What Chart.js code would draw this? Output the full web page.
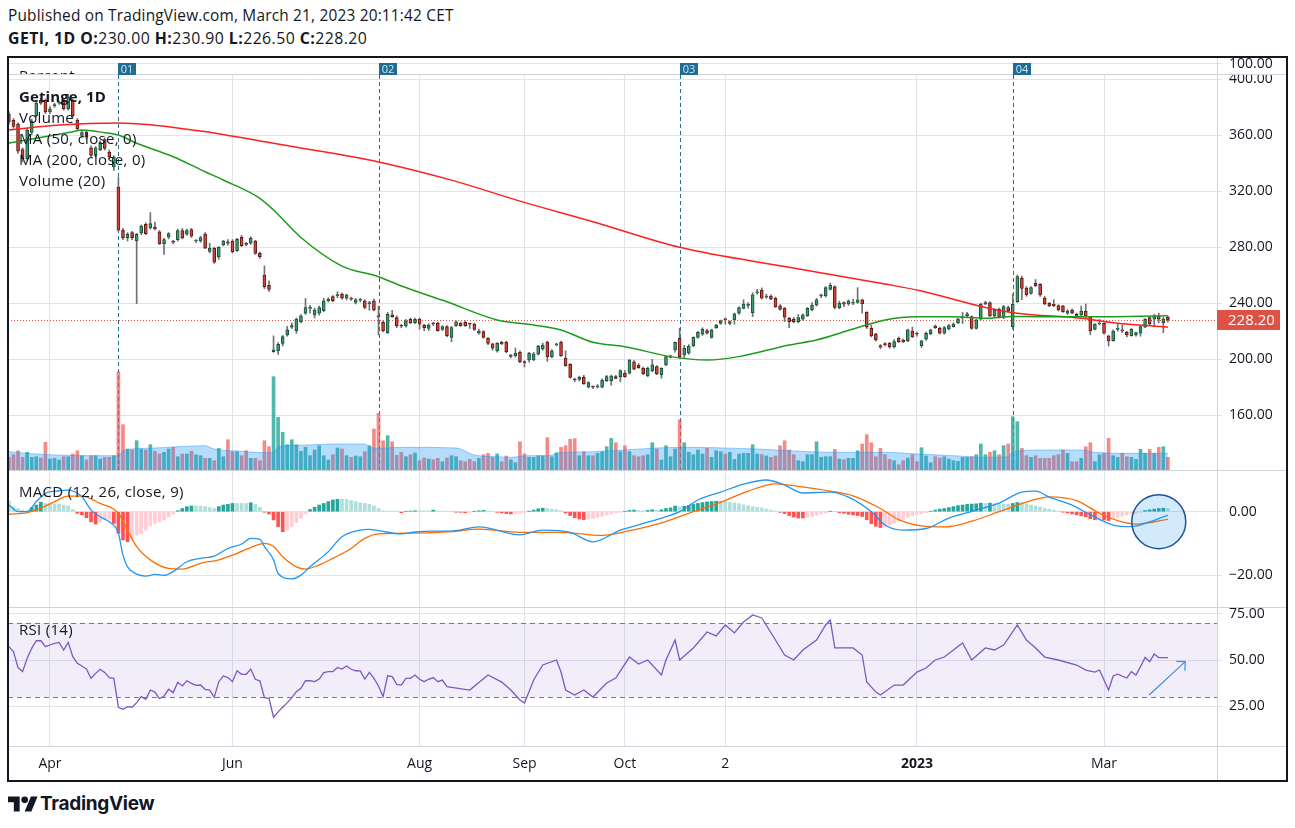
<!DOCTYPE html>
<html><head><meta charset="utf-8">
<script src="https://cdn.jsdelivr.net/npm/chart.js"></script>
<style>
html,body{margin:0;padding:0;background:#fff;}
body{width:1295px;height:828px;overflow:hidden;position:relative;font-family:'Open Sans',sans-serif;color:#131722;}
.abs{position:absolute;}
.lg{position:absolute;left:19px;font-size:15px;line-height:20px;letter-spacing:0.3px;white-space:nowrap;color:#131722;}
.sep{position:absolute;background:#d1d4dc;}
canvas{position:absolute;}
</style></head><body>

<div class="abs" style="left:8px;top:6px;font-size:15.4px;letter-spacing:0.2px;line-height:20px;white-space:nowrap">Published on TradingView.com, March 21, 2023 20:11:42 CET</div>
<div class="abs" style="left:8px;top:28px;font-size:15.8px;letter-spacing:0.45px;line-height:20px;white-space:nowrap"><b>GETI, 1D</b> <b>O:</b>230.00 <b>H:</b>230.90 <b>L:</b>226.50 <b>C:</b>228.20</div>

<canvas id="cPrice" width="1279" height="413" style="left:8px;top:57px"></canvas>
<canvas id="cMacd" width="1279" height="137" style="left:8px;top:470px"></canvas>
<canvas id="cRsi" width="1279" height="184" style="left:8px;top:597px"></canvas>

<div class="abs" style="left:8px;top:57px;width:200px;height:17px;overflow:hidden"><div class="lg" style="left:11px;top:8px">Percent</div></div>
<div class="lg" style="top:86px;font-weight:bold;letter-spacing:0.1px">Getinge, 1D</div>
<div class="lg" style="top:107px">Volume</div>
<div class="lg" style="top:128px">MA (50, close, 0)</div>
<div class="lg" style="top:149px">MA (200, close, 0)</div>
<div class="lg" style="top:170px">Volume (20)</div>
<div class="lg" style="top:481px">MACD (12, 26, close, 9)</div>
<div class="lg" style="top:619px">RSI (14)</div>

<div class="sep" style="left:8px;top:470px;width:1279px;height:1px"></div>
<div class="sep" style="left:8px;top:607px;width:1279px;height:1px"></div>
<div class="sep" style="left:8px;top:746px;width:1279px;height:1px"></div>
<div class="sep" style="left:1217px;top:746px;width:1px;height:35px"></div>
<div class="abs" style="left:7px;top:56px;width:1281px;height:726px;box-sizing:border-box;border:2px solid #131722;pointer-events:none"></div>

<svg class="abs" style="left:8px;top:796px" width="30" height="16" viewBox="0 0 36 18">
<path fill="#131722" d="M14 18H7V7H0V0h14v18zM28 18h-8l7.5-18h8L28 18z"/><circle fill="#131722" cx="20" cy="4" r="4"/>
</svg>
<div class="abs" style="left:40px;top:793px;font:bold 19px Inter,'Open Sans',sans-serif;line-height:22px;letter-spacing:-0.3px;color:#131722">TradingView</div>

<script>
// ---------------- DATA ----------------
// daily candles GETI, index 0 = 21 Mar 2022 ... 254 = 21 Mar 2023 : [open, high, low, close]
const candles = [
[375,377,368,369.5],[370.7,372,365,366.4],[368,369,347,348.6],[349.8,351,341,343.3],[343.3,365,342,363.6],
[362,371.5,360.5,370],[374,385,373,383],[385,386.5,382,383],[385,386,375.5,376.7],[376.7,380.5,375.5,379],
[381,383,380,382],[383,384.5,382,383.2],[385,386,378,379],[379,388.5,378,387],[385,386,373,374],
[370.7,372,364,364.8],[360,363.5,358.5,362],[362.4,363.5,357.5,358.8],[351,352.5,344.5,345.7],[345.7,352,344.5,351],
[349.8,356,349,354.8],[357,358,349.5,350.7],[348,349.5,343.5,344.5],[337.4,345.5,335,344.5],[323,329.8,291,292.3],
[292.1,293.5,285.5,286.9],[286.9,290.5,284.5,289.3],[290.5,291.5,285.5,286.9],[284.5,290,239.8,289.3],[290.2,296,289,295],
[296.4,297.5,289,289.8],[293.8,304.8,293,296.9],[294.5,298,292.5,293.3],[291,292,282,282.6],[282.6,286.5,275,285.5],
[287.4,290.5,286,289.8],[284,285,282.5,283.6],[285.5,293,284.5,292],[292,293.5,286,286.7],[289.3,293,288.5,292],
[292.6,293.5,287,288],[284.5,285.5,283.5,284.8],[284.5,288,283.5,286.9],[289.5,290.5,279,279.3],[277,283,276,279.3],
[279.3,280,268.5,269.3],[273.3,280.5,271.5,280],[281.7,285,281,284.5],[284,285.5,281.5,282.9],[284.5,285.5,276,276.9],
[277.6,286.5,277,285.7],[287.1,288.5,280.5,281.2],[282.9,283.5,281,282.1],[282.9,287.5,282,286.4],[284.5,285,275,275.7],
[275.7,276.5,272,273.3],[260.2,266.7,250.5,251.9],[252.9,256,248.5,250],[205.5,216.7,205,206.7],[206.2,212,203.5,210.7],
[211.4,217,209.5,216.2],[217.4,223.5,216.5,221],[222.9,226,222,224],[220.5,229.5,218.5,228.6],[226.9,232,226,231],
[232.9,243.5,232,236.9],[236.4,238.5,233,236.9],[231.7,236.5,229.5,235.2],[232.9,238,231.5,236.9],[234.8,243.5,234,241.7],
[241.9,244,241,243],[244.8,245.5,241,241.9],[245.5,248.3,244,246],[246.4,247.5,243,243.6],[243.6,246.5,242.5,246],
[243.2,244.5,242,243],[240.7,243.5,239.5,242.4],[242.2,243.5,241,242.4],[241.7,242.5,236,237.1],[239.8,241.5,235,240],
[241.7,243,234.5,235.2],[230.5,238,217.4,230.3],[226.4,227.5,219.5,220.5],[219,233.5,218.5,232.1],[231.7,235,230,230.5],
[229.8,231,222.5,223.8],[223.8,225,222.5,223.6],[223.8,228.5,223,227.4],[228.6,229.5,225.5,226.2],[226.2,229.5,225.5,228.6],
[228.6,229.5,221.5,225],[224.5,225,220.5,222.6],[222.1,225.5,220.5,224.5],[225.4,226.5,224,225.2],[225.7,226.5,220,220.5],
[221.4,224,220.5,223.3],[223.3,224,216,216.9],[215.7,223.5,212.5,222.6],[224,227.5,223.5,226.7],[225.7,226.5,223.5,224],
[226.4,227.5,223.5,224],[225.2,226,222,225],[225,226,220.5,221.4],[218.6,221.5,218,220.2],[219.8,220.5,215,215.7],
[215,215.5,210.5,211.4],[211,211.5,206.5,207.9],[206,212,205,211.4],[212.1,213,210.5,211],[212.1,213,204.5,205.5],
[202,203.5,201,203],[202.4,208,201.5,204.3],[205,206,197.5,198.3],[197.8,199,194.5,197.6],[199.5,205,198,204.3],
[199.5,205,199,203.8],[203.6,210,203,209.5],[207.4,211.5,206.5,210.2],[212.1,213,198.5,201.9],[201.9,207,201,206],
[210.2,211.5,209.5,211],[212.1,213,202,202.6],[200.7,206,195,195.5],[196.4,197,186.5,187.1],[185.3,186.5,184,185.2],
[185.7,188,184.5,187.1],[187.1,188.5,182,182.4],[180,184,179.5,183.3],[180.2,181,179,180],[180,182,179.5,181],
[180,186,179.5,185.2],[184.8,188.5,184,187.6],[184.8,188.8,181.5,188],[187.6,188.5,186,186.4],[187.6,192.5,184,191.9],
[190,192,187,187.6],[190,200,189.5,199.5],[198.1,199,192.5,192.9],[195.7,197,193.5,194],[193.6,194.5,189,189.8],
[188.1,194.5,187.5,193.6],[191.9,200,191,196],[194.8,195.5,189,189.5],[188.8,194,186.5,193.6],[196,202.5,195.5,201.9],
[201.4,203,201,202.4],[206.7,212.5,205,212.1],[215,222.1,200.5,201.9],[203.1,210,200.5,207.9],[204.3,210.5,203.5,209.5],
[209.8,216,209,215.7],[215.7,220,215,219.3],[217.9,222.5,217,221.4],[220.5,221.5,218,218.6],[215.7,221.5,215,221],
[222.6,225,222,224.5],[225.7,228,225,227.4],[228.8,229.5,225,228.1],[225.7,227.5,224.5,226.9],[228.1,233,225,232.4],
[232.9,237.5,232,236.9],[236.4,242.5,236,239.5],[238.5,240.5,236.5,239],[233.3,247.5,230.5,246],[247.5,250,246.5,247.9],
[249.5,251,243,243.6],[244.3,246.5,243.5,245.2],[245.2,246,242.5,242.9],[243.6,244.5,237,237.6],[238.1,239,235,235.7],
[236.4,237,227,230],[229.3,230,222.5,226.9],[228.6,230,226,226.9],[226.9,232,226,229.8],[228.6,232.5,228,231.7],
[231,237,230.5,236.4],[235.2,240.5,234.5,238.8],[238.8,243.5,238,242.4],[245.2,246.5,244,246],[245.2,252,244.5,251.2],
[250,254.5,249.5,253.1],[251.9,252.5,236,237.1],[236.9,241.5,236,240],[240.5,241,237.5,239.3],[239.5,242.5,238.5,241.7],
[240,243,239,240.7],[240.7,251.2,240,242.4],[242.4,243,233,239.5],[233.6,234,222,222.9],[222.1,224.5,216,216.7],
[218.1,218.5,213,213.8],[209.8,210.5,207.5,208.6],[210.7,212,209.5,210.5],[211.4,212,208,209],[209,214,208,212.6],
[215,216,212,212.6],[213.8,214.5,212,212.6],[213.3,221.5,212.5,221],[220.2,223,215.5,216.2],[218,219.5,216.5,217.9],
[209.8,213.5,208.5,213.1],[214.3,219.5,213.5,218.6],[218.1,221.5,217.5,221],[223.8,224.5,222,222.6],[222.1,223,218,218.6],
[218.6,223.5,218,222.6],[221.7,225,221,224],[223.3,226,223,225.2],[226.2,229.5,225.5,228.8],[229.6,233.5,225.5,229.8],
[231,233.5,230.5,232.4],[230.5,231,221.5,222.1],[222.1,228.5,221.5,228.1],[228.6,240,228,239.5],[239.5,241.5,239,240.5],
[240.5,241,230.5,231],[231,236,230,235.2],[235.7,236.5,229.5,230],[230,238.5,229,237.6],[236.9,238,234,234.8],
[223.3,246.7,221.5,239.3],[241.2,260.2,240.5,259],[257.9,259.5,242.5,250.7],[250.7,252,245,246],[247.1,252,246.5,251.2],
[254.3,257,252,252.4],[253.6,254,245,246],[243.6,245,239,239.5],[240,240.5,237.5,238.3],[239.3,242.5,237.5,238.1],
[238.3,239,234.5,235.2],[238.1,238.5,233.5,234],[232.9,235.5,232,234.5],[235.2,236,232.5,232.9],[232.1,233,230,230.5],
[231.7,238,231,234.5],[234.5,239.5,230,230.5],[230,230.5,217.5,220.5],[221.4,225.5,221,225.2],[225.2,228.5,224.5,225.7],
[225.7,226,218,218.6],[216.7,217,209.5,213.1],[213.3,221,213,220.2],[221.4,225.5,220,221.4],[221,224.5,219,220.2],
[219.3,220,216,217.4],[216.9,222,216.5,221.4],[217.4,219.5,216.5,219],[218.6,224,216.5,223.3],[222.9,229,222.5,228.6],
[229.8,230.5,224.5,225.2],[228.6,232,224,231],[231,233,226,228.6],[226.2,230,219,228.6],[230,230.9,226.5,228.2]
];
// daily volume (100k shares)
const volume = [
12.7,15.3,19.3,12.7,17.7,12.7,13.3,12,27.7,11, 11.7,10,13.3,13.3,16,19.3,14.3,10,14.3,14.3,
11,12.7,12.7,14.3,98.3,45.3,21,20,29.3,21, 20,25.3,18.7,16,17.7,21,22.7,13.3,16,16,
18.7,15,14.3,11.7,11.7,9.3,21.7,13.3,30.3,18.3, 18.3,14.3,19.3,11.7,11.7,9.3,29.3,23.3,93.3,52.7,
37.7,25.3,30.3,25.3,18.7,22.7,14.3,20,24.3,14.3, 10,15.3,22,21,14.3,12.7,14,13.3,18.3,24.3,
41,56.7,29.3,34.3,28.3,14.7,17.7,13.3,15.3,17, 9.3,12,11,10.3,11.7,8.3,12,14.3,13.3,9.3,
8.3,10.7,8.3,11.7,15.3,16.7,12.7,16,8.3,14, 10.3,7.3,28.3,16,12.7,12.7,14.3,14.3,32.3,13.3,
17.3,22.7,24.3,30.7,31.3,14.3,18.3,14.3,14.3,16.7, 18.3,23.3,31.7,27.3,18.3,24.3,18.3,14.3,13.3,14.3,
15.3,27.3,21,10,24.3,13.3,21,50.3,27.3,17.7, 15.3,20,16,21.7,12.7,19.3,18.3,16,17.7,10.7,
16,16.7,16.7,25.3,16,15.3,14,12.7,14,24.3, 29.3,20,15.3,9.3,8.3,15.3,15.3,28.3,12.7,13.3,
13.3,20.7,11,10.3,11.7,11.7,19.3,26,35.3,27.3, 13.3,21.7,15.3,10.7,9.3,5.3,9.3,12,15.3,8.3,
22.3,14,7.3,13.3,12,13.3,11,9.3,8.7,12.7, 12.7,13.3,15.3,26,15.3,17.7,19.3,15.3,24.3,26,
53.3,48.3,21.7,14.3,12.7,14.3,11.7,11.7,11.7,14.3, 15.3,20,16.7,8.3,8.3,11.7,23.3,27.3,8.3,15.3,
16.7,31.7,14.3,12.7,16.7,13.3,12.7,10.7,20.7,16.7, 20.7,16.7,22.7,23.3,12.7
];
// Volume (20) moving average, read at [bar, value]
const volMA20 = [[0,18.3],[6,16],[14,14.5],[21,14.3],[24,14.3],[25,19],[27,21],[32,22],[38,23.5],[43,24.3],[45,21],[50,19],[56,17.3],[58,17.5],[59,23],[64,24.7],[71,26],[78,26],[79,23],[81,21.7],[86,22.7],[98,22],[102,15],[107,13.3],[110,12.7],[114,14.3],[118,14.3],[121,17.3],[128,18.3],[135,20],[142,22],[149,22.7],[157,22],[164,21],[171,19.3],[181,17.7],[192,17.7],[199,16],[207,14.3],[214,12.7],[219,13.3],[220,18.3],[227,20],[235,20],[238,17.7],[246,16.7],[254,16.7]];
// MA 50 and MA 200 of close, read at [bar, value]
const ma50 = [[0,354.5],[6,357.9],[14,362.6],[16,363.8],[21,361.9],[24,360.2],[28,354.3],[36,344.7],[43,334],[47,328.1],[55,315],[58,306.6],[64,287],[73,266.6],[81,259],[86,252.4],[96,241.1],[107,228.1],[115,224.5],[121,220.9],[128,212.1],[135,209],[145,201.9],[153,199.5],[160,201.9],[171,210.2],[177,213.8],[185,221.6],[192,228.1],[199,230.4],[207,230.4],[214,229.3],[220,230.5],[235,230.3],[254,231.1]];
const ma200 = [[0,363.8],[11,367.4],[24,368.8],[42,363.1],[55,356],[64,351],[81,341],[97,328],[112,313],[128,298.3],[147,280],[171,265.7],[192,253.8],[200,248.8],[214,237],[221,232.9],[235,229.3],[242,226.1],[254,222.9]];
// MACD (12,26,9)
const macdLine = [[0,2.1],[2,0],[4,0],[6,3.2],[8,5.8],[11,6.6],[13,6.8],[16,4.7],[18,0.5],[20,-1.6],[22,-3.2],[24,-6.8],[25,-13.7],[26,-17.4],[28,-19.7],[30,-20.3],[32,-19.8],[34,-20.1],[36,-18.9],[39,-15.8],[42,-14.7],[45,-14],[48,-11.6],[51,-10.2],[53,-8.4],[55,-8.7],[56,-11],[58,-15.2],[59,-19.5],[62,-21.2],[64,-20],[66,-17.4],[70,-12.6],[73,-7.9],[77,-5.8],[79,-5.6],[81,-6],[86,-7],[89,-6.4],[93,-6.1],[97,-6.1],[103,-4.8],[112,-7.3],[117,-5.8],[123,-6.5],[128,-9.5],[134,-5.8],[140,-3.3],[147,0],[151,3.7],[156,6.2],[161,8.7],[166,10],[170,8.4],[174,5.9],[180,6.2],[184,4.6],[189,0],[192,-4.2],[196,-5.8],[201,-5.3],[206,-2],[212,0.5],[217,2.7],[222,6.2],[225,6.5],[228,4.6],[233,2.1],[237,-1],[239,-2.4],[242,-4.2],[246,-4.7],[250,-3.2],[254,-1.05]];
const signalLine = [[0,-0.8],[4,-0.3],[7,1.1],[10,3.2],[13,4.9],[16,4.9],[20,2.6],[24,-0.5],[26,-5.8],[28,-11],[31,-15.2],[35,-17.9],[38,-18.1],[42,-16.3],[46,-15.2],[49,-13.7],[53,-11.3],[56,-10],[58,-11],[60,-14.2],[63,-17.4],[65,-18.1],[68,-16.8],[71,-14.7],[75,-11.6],[78,-8.4],[81,-7],[86,-6.8],[93,-6.6],[97,-6.3],[103,-5.5],[112,-6.5],[121,-6.5],[130,-7.5],[136,-6],[143,-3.5],[149,-0.5],[156,3],[162,6.5],[168,8.8],[173,8],[180,6.5],[185,5],[191,1],[195,-2.5],[200,-4.5],[205,-4.8],[211,-3],[217,0],[224,3.5],[228,4.7],[234,3.5],[239,-0.5],[243,-2.8],[247,-3.9],[254,-2.4]];
const macdHist = [
3.4,1.6,1.0,0.5,0.3,1.3,2.1,3.0,2.6,2.6, 2.4,2.4,2.1,1.8,0.7,-0.5,-1.0,-1.9,-3.2,-3.9,
-3.2,-2.6,-2.4,-3.7,-6.8,-8.9,-9.5,-8.4,-7.4,-6.8, -5.8,-4.5,-3.7,-3.2,-2.6,-1.6,-0.7,0.3,1.0,1.6,
1.8,1.8,1.8,1.6,1.3,1.0,1.6,2.1,2.3,2.6, 2.6,2.6,2.6,2.8,2.3,1.4,-0.1,-0.7,-2.6,-4.7,
-6.3,-5.8,-4.7,-3.5,-2.1,-0.7,0.7,1.4,2.1,2.6, 3.2,3.7,3.9,3.9,3.9,3.5,3.2,2.8,2.6,2.3,
1.8,1.0,0.3,0.2,0.2,0.2,-0.3,0.1,0.2,0.3, 0.3,0.3,0.3,0.5,0.2,0.2,0.1,
0.1,-0.1,-0.2,-0.3,-0.2,0.1,0.3,0.4,0.3,0.1,-0.2,-0.4,-0.6,-0.7,-0.6,-0.5,-0.3,0.1,
0.5,0.9,1.1,1.0,0.8,0.6,0.3,
-0.4,-1.2,-1.9,-2.3,-2.5,-2.3,-2.1,-1.8,-1.4,
-1.0,-0.7,-0.4,-0.2,0.1,0.4,
0.5,0.4,0.3,0.4,0.6,0.5,0.6,1.0,1.2,1.8,1.6,1.7,
2.0,2.3,2.6,2.9,3.1,3.2,3.3,3.3,3.2,3.0,2.8,2.5,2.2,1.9,1.6,1.4,1.2,
0.8,0.5,0.2,-0.2,-0.6,
-1.2,-1.7,-2.0,-2.0,-1.8,-1.5,-1.1,-0.7,
-0.4,0.1,0.0,-0.3,-0.5,-0.8,-1.0,-1.2,
-1.5,-2.5,-3.8,-4.6,-5.0,-4.8,-4.2,-3.6,-3.0,
-2.4,-1.8,-1.3,-0.8,-0.6,-0.3,0.1,0.5,
0.8,1.0,1.3,1.6,1.9,2.1,2.3,2.4,2.5,2.7,2.6,2.7,
2.6,2.5,2.4,2.3,2.6,2.9,2.8,2.4,
2.1,1.8,1.5,1.1,0.8,0.5,0.2,-0.1,-0.4,-0.7,
-1.0,-1.3,-1.6,-2.2,-2.5,-2.4,-2.6,-2.8,
-2.3,-1.8,-1.4,-1.1,-0.8,-0.5,-0.2,
0.4,0.6,0.8,1.0,1.1,1.0
];
// RSI (14): bars 0..96 one value per bar, later read at [bar, value]
const rsiDaily = [
57.2,54.5,45.9,43.7,50.9,56.3,60.4,60.4,57.2,58.1, 59,59.5,55.4,59.5,51.8,48.2,46.8,45.1,40.1,42.8,
45,43.3,40.5,40.1,24.5,23.4,24.8,24.5,27,30.2, 28.8,33.8,32.7,29.1,30.6,34.2,32.4,38,36,38.8,
37.4,36.3,36.5,34.2,33.8,29.9,38.3,41.4,40.5,38.3, 44.2,42.3,42.3,45.1,39.6,38.8,29.7,29.3,19.1,22,
24.5,27,29.7,32.9,34.7,38.8,38.8,38.3,39.7,43.2, 43.7,43.7,46,45.1,46.8,45,44.2,44.1,39.7,43.3,
40.1,36,30.2,41.5,41,36.9,36.5,40.1,40.1,41.9, 39.6,38.3,39.6,40.5,38.3,39.2,35.6
];
const rsiLater = [[101,33.8],[105,41.9],[108,38.1],[110,33.8],[112,28.4],[113,26.8],[115,39.2],[117,47.3],[120,50],[121,43.5],[122,33.8],[124,31.1],[126,33.8],[128,30],[131,37.6],[133,40.3],[136,51.6],[138,47.8],[140,50],[143,41.9],[144,50],[146,60.8],[147,50],[150,56.5],[153,65.1],[155,63],[157,68.9],[159,64.6],[161,70.5],[163,74.3],[165,72.7],[168,60.8],[170,52.7],[172,50],[174,55.4],[177,60.8],[179,68.9],[180,71.6],[181,56.5],[185,56.5],[187,52.7],[188,38.1],[190,32.7],[191,31.1],[194,36.5],[196,36.5],[199,43.5],[201,45.7],[203,50],[205,51.6],[207,55.4],[209,59.2],[211,50],[214,56.5],[216,55.4],[218,58.1],[221,68.9],[223,60.8],[225,56.5],[227,51.6],[230,50],[234,47.3],[236,44.6],[238,43.5],[239,44.6],[241,33.8],[242,41.4],[243,42.4],[245,40.3],[246,43.7],[247,41.9],[248,46.4],[249,51.4],[250,49.1],[251,53.2],[252,51.3],[254,51.3]];

// axes / ticks
const priceTicks = [160,200,240,280,320,360,400];
const macdTicks = [-20,0];
const rsiTicks = [25,50,75];
const rsiBands = [30,70];
const xTickIdx = [9,49,90,113,135,157,199,240];
const xTickLabels = ['Apr','Jun','Aug','Sep','Oct','2','2023','Mar'];
const events = [24,81,147,220];
const eventLabels = ['01','02','03','04'];
// drawings (data coordinates)
const macdCircle = {bar:252, value:-3.15};
const rsiArrow = {from:[249.9,31.1], to:[257.8,49.1]};

// ---------------- CHARTS ----------------
const GRID = '#e0e3eb', SEPC = '#d1d4dc', TXT = '#131722';
const FONT = "'Open Sans', sans-serif";
Chart.defaults.font.family = FONT;
Chart.defaults.font.size = 14;
Chart.defaults.color = TXT;
const X_MIN = -0.197, X_MAX = 264.76;
const pts = arr => arr.map(p => ({x:p[0], y:p[1]}));

function xAxis(show){
  return {
    type:'linear', min:X_MIN, max:X_MAX, offset:false,
    afterBuildTicks: a => { a.ticks = xTickIdx.map(v => ({value:v})); },
    afterFit: a => { a.height = show ? 35 : 0; a.paddingLeft = 0; a.paddingRight = 0; },
    grid:{color:GRID, drawTicks:false, offset:false},
    border:{display:show, color:SEPC},
    ticks:{display:show, autoSkip:false, maxRotation:0, padding:10, color:TXT,
      callback: v => { const k = xTickIdx.indexOf(v); return k >= 0 ? xTickLabels[k] : ''; },
      font: c => ({family:FONT, size:14, weight: (c.tick && xTickLabels[xTickIdx.indexOf(c.tick.value)] === '2023') ? 'bold' : 'normal'})
    }
  };
}
function yAxis(min, max, ticks, fmt){
  return {
    type:'linear', position:'right', min, max,
    afterBuildTicks: a => { a.ticks = ticks.map(v => ({value:v})); },
    afterFit: a => { a.width = 70; a.paddingTop = 0; a.paddingBottom = 0; },
    grid:{color:GRID, drawTicks:true, tickLength:5},
    border:{display:true, color:SEPC},
    ticks:{autoSkip:false, padding:7, color:TXT, font:{family:FONT, size:14}, callback: fmt}
  };
}
const fmt2 = v => (v < 0 ? '\u2212' : '') + Math.abs(v).toFixed(2);
const baseOpts = pad => ({
  responsive:false, animation:false, devicePixelRatio:1, events:[],
  layout:{padding:{top:pad, left:0, right:0, bottom:0}, autoPadding:false},
  plugins:{legend:{display:false}, tooltip:{enabled:false}}
});

const isUp = candles.map(c => c[3] >= c[0]);

const priceDecor = {
  id:'priceDecor',
  beforeDatasetsDraw(chart){
    const {ctx, chartArea:a, scales:{x, y}} = chart;
    ctx.save();
    const last = candles[candles.length-1][3];
    const py = Math.round(y.getPixelForValue(last)) + 0.5;
    ctx.strokeStyle = '#e0533f'; ctx.lineWidth = 1; ctx.setLineDash([1,2]);
    ctx.beginPath(); ctx.moveTo(a.left, py); ctx.lineTo(a.right, py); ctx.stroke();
    ctx.strokeStyle = '#1f6f9a'; ctx.setLineDash([4,3]);
    events.forEach(e => { const px = Math.round(x.getPixelForValue(e)) + 0.5; ctx.beginPath(); ctx.moveTo(px, a.top); ctx.lineTo(px, a.bottom); ctx.stroke(); });
    ctx.restore();
  },
  afterDraw(chart){
    const {ctx, chartArea:a, scales:{x, y}, width} = chart;
    ctx.save();
    ctx.fillStyle = '#fff'; ctx.fillRect(0, 0, width, a.top);
    ctx.fillStyle = GRID; ctx.fillRect(0, 6, a.right + 5, 1);
    ctx.fillStyle = SEPC; ctx.fillRect(0, a.top - 1, width, 1); ctx.fillRect(a.right, 0, 1, a.top);
    ctx.fillStyle = TXT; ctx.font = '14px ' + FONT; ctx.textBaseline = 'middle'; ctx.textAlign = 'left';
    ctx.fillText('100.00', a.right + 12, 7);
    events.forEach((e, k) => {
      const px = Math.round(x.getPixelForValue(e));
      ctx.fillStyle = '#1f6c94'; ctx.fillRect(px, 6, 18, 12);
      ctx.fillStyle = '#cfe7f6'; ctx.font = '11px ' + FONT; ctx.textAlign = 'center';
      ctx.fillText(eventLabels[k], px + 9, 12.5);
    });
    const last = candles[candles.length-1][3];
    const py = Math.round(y.getPixelForValue(last));
    ctx.fillStyle = '#de5246'; ctx.fillRect(a.right, py - 10, 63, 20);
    ctx.fillStyle = '#fff'; ctx.font = '15px ' + FONT; ctx.textAlign = 'left';
    ctx.fillText(last.toFixed(2), a.right + 11, py + 0.5);
    ctx.restore();
  }
};

new Chart(document.getElementById('cPrice'), {
  type:'bar',
  data:{datasets:[
    {type:'line', data:pts(ma50), borderColor:'#1e9b1e', borderWidth:1.5, pointRadius:0, cubicInterpolationMode:'monotone', order:1},
    {type:'line', data:pts(ma200), borderColor:'#ff1f1f', borderWidth:1.5, pointRadius:0, cubicInterpolationMode:'monotone', order:1},
    {type:'bar', data:candles.map((c,i) => ({x:i, y:[c[0], c[3]]})), backgroundColor:isUp.map(u => u ? '#3d9a6c' : '#d2443a'), borderColor:isUp.map(u => u ? '#1d4d36' : '#5a1a15'), borderWidth:1, borderSkipped:false, barThickness:3, minBarLength:1, grouped:false, order:3},
    {type:'bar', data:candles.map((c,i) => ({x:i, y:[c[2], c[1]]})), backgroundColor:'#6f7177', barThickness:1, grouped:false, order:4},
    {type:'line', data:pts(volMA20), yAxisID:'vol', fill:'origin', backgroundColor:'rgba(33,150,243,0.33)', borderColor:'rgba(33,150,243,0.45)', borderWidth:1, pointRadius:0, cubicInterpolationMode:'monotone', order:5},
    {type:'bar', data:volume.map((v,i) => ({x:i, y:v})), yAxisID:'vol', backgroundColor:isUp.map(u => u ? 'rgba(38,166,154,0.8)' : 'rgba(239,83,80,0.68)'), barThickness:3, grouped:false, order:6}
  ]},
  options:Object.assign(baseOpts(18), {scales:{
    x:xAxis(false),
    y:yAxis(120.9, 403.1, priceTicks, v => v.toFixed(2)),
    vol:{type:'linear', axis:'y', display:false, min:0, max:395}
  }}),
  plugins:[priceDecor]
});

const histColors = macdHist.map((h, i) => {
  const p = i > 0 ? macdHist[i-1] : h;
  if (h >= 0) return p < h ? '#26a69a' : '#b2dfdb';
  return p < h ? '#ffcdd2' : '#ff5252';
});
const macdDecor = {
  id:'macdDecor',
  afterDatasetsDraw(chart){
    const {ctx, scales:{x, y}} = chart;
    const cx = x.getPixelForValue(macdCircle.bar), cy = y.getPixelForValue(macdCircle.value);
    ctx.save();
    ctx.beginPath(); ctx.arc(cx, cy, 27, 0, Math.PI * 2);
    ctx.fillStyle = 'rgba(33,150,243,0.2)'; ctx.fill();
    ctx.strokeStyle = '#1c4f9c'; ctx.lineWidth = 1.5; ctx.stroke();
    ctx.restore();
  }
};
new Chart(document.getElementById('cMacd'), {
  type:'bar',
  data:{datasets:[
    {type:'line', data:pts(macdLine), borderColor:'#2196f3', borderWidth:1.3, pointRadius:0, cubicInterpolationMode:'monotone', order:1},
    {type:'line', data:pts(signalLine), borderColor:'#ff6d00', borderWidth:1.3, pointRadius:0, cubicInterpolationMode:'monotone', order:2},
    {type:'bar', data:macdHist.map((h,i) => ({x:i, y:h})), backgroundColor:histColors, barThickness:3, grouped:false, order:3}
  ]},
  options:Object.assign(baseOpts(0), {scales:{
    x:xAxis(false),
    y:yAxis(-30.06, 13.15, macdTicks, fmt2)
  }}),
  plugins:[macdDecor]
});

const rsiDecor = {
  id:'rsiDecor',
  beforeDatasetsDraw(chart){
    const {ctx, chartArea:a, scales:{y}} = chart;
    const y1 = y.getPixelForValue(rsiBands[1]), y0 = y.getPixelForValue(rsiBands[0]);
    ctx.save();
    ctx.fillStyle = 'rgba(126,87,194,0.1)'; ctx.fillRect(a.left, y1, a.right - a.left, y0 - y1);
    ctx.strokeStyle = '#787b86'; ctx.lineWidth = 1; ctx.setLineDash([5,4]);
    [y0, y1].forEach(v => { const p = Math.round(v) + 0.5; ctx.beginPath(); ctx.moveTo(a.left, p); ctx.lineTo(a.right, p); ctx.stroke(); });
    ctx.restore();
  },
  afterDatasetsDraw(chart){
    const {ctx, scales:{x, y}} = chart;
    const x0 = x.getPixelForValue(rsiArrow.from[0]), y0 = y.getPixelForValue(rsiArrow.from[1]);
    const x1 = x.getPixelForValue(rsiArrow.to[0]), y1 = y.getPixelForValue(rsiArrow.to[1]);
    const ang = Math.atan2(y1 - y0, x1 - x0), L = 9;
    ctx.save();
    ctx.strokeStyle = '#3d8ee6'; ctx.lineWidth = 1.2;
    ctx.beginPath(); ctx.moveTo(x0, y0); ctx.lineTo(x1, y1);
    ctx.moveTo(x1 - L * Math.cos(ang - Math.PI/4), y1 - L * Math.sin(ang - Math.PI/4)); ctx.lineTo(x1, y1);
    ctx.lineTo(x1 - L * Math.cos(ang + Math.PI/4), y1 - L * Math.sin(ang + Math.PI/4));
    ctx.stroke();
    ctx.restore();
  }
};
const rsiData = rsiDaily.map((v,i) => ({x:i, y:v})).concat(pts(rsiLater));
new Chart(document.getElementById('cRsi'), {
  type:'line',
  data:{datasets:[
    {data:rsiData, borderColor:'#7e57c2', borderWidth:1.3, pointRadius:0, tension:0}
  ]},
  options:Object.assign(baseOpts(10), {scales:{
    x:xAxis(true),
    y:yAxis(3.6, 78.6, rsiTicks, v => v.toFixed(2))
  }}),
  plugins:[rsiDecor]
});
</script>
</body></html>
